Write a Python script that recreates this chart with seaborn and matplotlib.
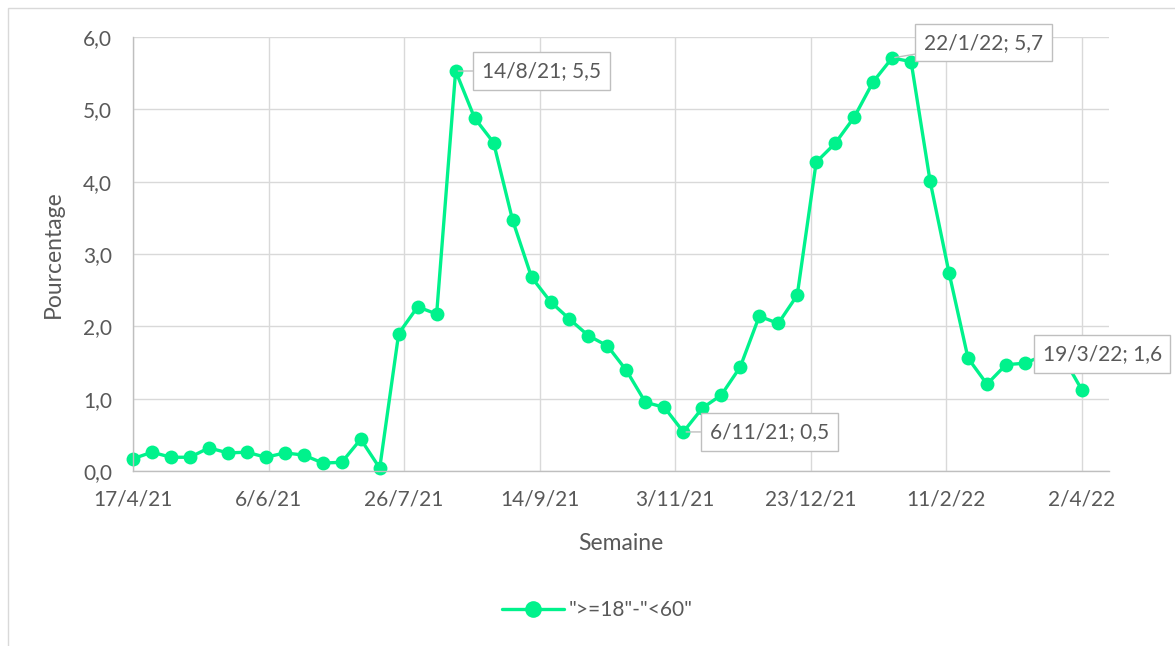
"""
Weekly percentage for the ">=18"-"<60" age group, Apr 2021 - Apr 2022.
"""

import matplotlib
matplotlib.use("Agg")  # headless
import matplotlib.pyplot as plt
from matplotlib.patches import Rectangle
from matplotlib.ticker import FuncFormatter
import pandas as pd
import seaborn as sns

# one value per week, starting 17/4/21
start_date = "2021-04-17"
values = [
    0.17, 0.26, 0.19, 0.19, 0.32, 0.25, 0.26, 0.19, 0.25, 0.22,
    0.11, 0.12, 0.44, 0.04, 1.90, 2.27, 2.17, 5.53, 4.88, 4.54,
    3.47, 2.68, 2.34, 2.10, 1.87, 1.73, 1.39, 0.95, 0.88, 0.54,
    0.87, 1.05, 1.44, 2.14, 2.04, 2.43, 4.27, 4.53, 4.89, 5.38,
    5.71, 5.66, 4.01, 2.74, 1.56, 1.20, 1.47, 1.49, 1.60, 1.58,
    1.12,
]
series_name = '">=18"-"<60"'
labelled = ["2021-08-14", "2021-11-06", "2022-01-22", "2022-03-19"]
tick_dates = pd.date_range("2021-04-17", "2022-04-02", freq="50D")

GREEN = "#00F28C"
GREY_TXT = "#595959"
GRID = "#D9D9D9"

df = pd.DataFrame({
    "Semaine": pd.date_range(start_date, periods=len(values), freq="7D"),
    "Pourcentage": values,
})

sns.set_style("white")
plt.rcParams["font.family"] = ["Lato", "DejaVu Sans"]

fig = plt.figure(figsize=(11.75, 6.46), dpi=100)
ax = fig.add_axes([133 / 1175, 1 - 471 / 646, (1109 - 133) / 1175, (471 - 37) / 646])

sns.lineplot(
    data=df, x="Semaine", y="Pourcentage", ax=ax,
    color=GREEN, linewidth=2.4, marker="o", markersize=10,
    markeredgecolor=GREEN, markeredgewidth=0, label=series_name,
    clip_on=False,
)

ax.set_ylim(0, 6)
ax.set_yticks(range(0, 7))
ax.yaxis.set_major_formatter(FuncFormatter(lambda v, _: f"{v:.1f}".replace(".", ",")))
ax.set_xlim(pd.Timestamp("2021-04-17"), pd.Timestamp("2022-04-12"))
ax.set_xticks(tick_dates)
ax.set_xticklabels([f"{d.day}/{d.month}/{d.year % 100}" for d in tick_dates])

ax.grid(True, color=GRID, linewidth=1)
ax.set_axisbelow(True)
for side in ["top", "right"]:
    ax.spines[side].set_visible(False)
for side in ["left", "bottom"]:
    ax.spines[side].set_color("#BFBFBF")
    ax.spines[side].set_linewidth(1)
ax.tick_params(axis="both", length=0, labelsize=15, colors=GREY_TXT)
ax.tick_params(axis="y", pad=15)
ax.tick_params(axis="x", pad=13)
ax.set_xlabel("Semaine", fontsize=16.5, color=GREY_TXT, labelpad=17)
ax.set_ylabel("Pourcentage", fontsize=16.5, color=GREY_TXT, labelpad=14)

# data labels with boxes
offsets = {
    "2021-08-14": (19, 0),
    "2021-11-06": (19, 0),
    "2022-01-22": (23, 11),
    "2022-03-19": (-1, 1),
}
for d in labelled:
    ts = pd.Timestamp(d)
    v = df.loc[df["Semaine"] == ts, "Pourcentage"].iloc[0]
    txt = f"{ts.day}/{ts.month}/{ts.year % 100}; {v:.1f}".replace(".", ",")
    ax.annotate(
        txt, xy=(ts, v), xytext=offsets[d], textcoords="offset points",
        ha="left", va="center", fontsize=15, color=GREY_TXT,
        bbox=dict(boxstyle="square,pad=0.42", fc="white", ec="#BFBFBF", lw=1),
        arrowprops=dict(arrowstyle="-", color="#BFBFBF", lw=1, shrinkA=0, shrinkB=2),
        annotation_clip=False, zorder=5,
    )

leg = ax.legend(
    loc="center", bbox_to_anchor=(0.508, 1 - 610 / 646), bbox_transform=fig.transFigure,
    frameon=False, fontsize=15, handlelength=3.0, handletextpad=0.2,
    markerscale=1.2,
)
for t in leg.get_texts():
    t.set_color(GREY_TXT)

# light chart border like the original export
fig.patches.append(Rectangle((8 / 1175, -0.1), 1.2, (646 - 8) / 646 + 0.1,
                             transform=fig.transFigure, fill=False,
                             edgecolor=GRID, linewidth=1))

fig.savefig("out.png", dpi=100)
plt.close(fig)
